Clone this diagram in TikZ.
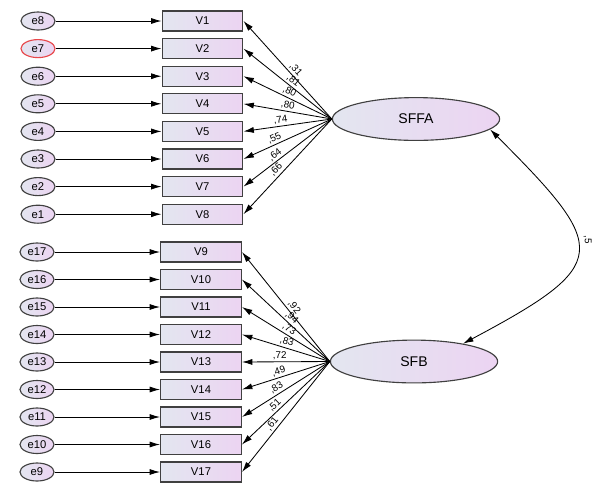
\documentclass[tikz,border=0pt]{standalone}
\usepackage{fontspec}
\setmainfont{Liberation Sans}
\usetikzlibrary{arrows.meta, shapes.geometric, positioning}
\definecolor{leftshade}{HTML}{E3E6F0}
\definecolor{rightshade}{HTML}{ECD4F2}
\definecolor{errred}{HTML}{E8474A}
\definecolor{edgegray}{HTML}{404040}

\begin{document}
\begin{tikzpicture}[x=0.025cm,y=-0.025cm,>={Latex[length=2.6mm,width=1.5mm]},
            line width=0.6pt]
             \useasboundingbox (0,0) rectangle (592,482);

             \tikzstyle{obs} = [draw=edgegray, line width=0.8pt, rectangle, minimum width=2.02cm, minimum height=0.5cm,
                                inner sep=0pt, left color=leftshade, right color=rightshade, font=\footnotesize]
             \tikzstyle{err} = [draw=edgegray, line width=0.8pt, ellipse, minimum width=0.85cm, minimum height=0.45cm,
                                inner sep=0pt, left color=leftshade, right color=rightshade, font=\footnotesize]
             \tikzstyle{lat} = [draw=edgegray, line width=0.8pt, ellipse, minimum width=4.18cm, minimum height=1.07cm,
                                inner sep=0pt, left color=leftshade, right color=rightshade, font=\normalsize]
             \tikzstyle{lod} = [sloped, above, font=\scriptsize, inner sep=1.2pt]

             % errors, upper block
             \node [err] at (38,21) (e8) {e8};
             \node [err, draw=errred] at (38,48.6) (e7) {e7};
             \node [err] at (38,76.2) (e6) {e6};
             \node [err] at (38,103.8) (e5) {e5};
             \node [err] at (38,131.4) (e4) {e4};
             \node [err] at (38,159) (e3) {e3};
             \node [err] at (38,186.6) (e2) {e2};
             \node [err] at (38,214.2) (e1) {e1};

             % errors, lower block
             \node [err] at (37,252) (e17) {e17};
             \node [err] at (37,279.5) (e16) {e16};
             \node [err] at (37,307) (e15) {e15};
             \node [err] at (37,334.5) (e14) {e14};
             \node [err] at (37,362) (e13) {e13};
             \node [err] at (37,389.5) (e12) {e12};
             \node [err] at (37,417) (e11) {e11};
             \node [err] at (37,444.5) (e10) {e10};
             \node [err] at (37,472) (e9) {e9};

             % observed variables
             \node [obs] at (202.5,21) (V1) {V1};
             \node [obs] at (202.5,48.6) (V2) {V2};
             \node [obs] at (202.5,76.2) (V3) {V3};
             \node [obs] at (202.5,103.8) (V4) {V4};
             \node [obs] at (202.5,131.4) (V5) {V5};
             \node [obs] at (202.5,159) (V6) {V6};
             \node [obs] at (202.5,186.6) (V7) {V7};
             \node [obs] at (202.5,214.2) (V8) {V8};

             \node [obs] at (201,252) (V9) {V9};
             \node [obs] at (201,279.5) (V10) {V10};
             \node [obs] at (201,307) (V11) {V11};
             \node [obs] at (201,334.5) (V12) {V12};
             \node [obs] at (201,362) (V13) {V13};
             \node [obs] at (201,389.5) (V14) {V14};
             \node [obs] at (201,417) (V15) {V15};
             \node [obs] at (201,444.5) (V16) {V16};
             \node [obs] at (201,472) (V17) {V17};

             % factors
             \node [lat] at (416,119) (SFFA) {SFFA};
             \node [lat] at (414,361.5) (SFB) {SFB};

             % error arrows
             \draw [->] (e8)--(V1);
             \draw [->] (e7)--(V2);
             \draw [->] (e6)--(V3);
             \draw [->] (e5)--(V4);
             \draw [->] (e4)--(V5);
             \draw [->] (e3)--(V6);
             \draw [->] (e2)--(V7);
             \draw [->] (e1)--(V8);
             \draw [->] (e17)--(V9);
             \draw [->] (e16)--(V10);
             \draw [->] (e15)--(V11);
             \draw [->] (e14)--(V12);
             \draw [->] (e13)--(V13);
             \draw [->] (e12)--(V14);
             \draw [->] (e11)--(V15);
             \draw [->] (e10)--(V16);
             \draw [->] (e9)--(V17);

             % loadings SFFA
             \draw [->] (SFFA.west)--(V1.east) node [lod, pos=.46] {,31};
             \draw [->] (SFFA.west)--(V2.east) node [lod, pos=.48] {,81};
             \draw [->] (SFFA.west)--(V3.east) node [lod, pos=.51] {,80};
             \draw [->] (SFFA.west)--(V4.east) node [lod, pos=.51] {,80};
             \draw [->] (SFFA.west)--(V5.east) node [lod, pos=.57] {,74};
             \draw [->] (SFFA.west)--(V6.east) node [lod, pos=.62] {,55};
             \draw [->] (SFFA.west)--(V7.east) node [lod, pos=.6] {,64};
             \draw [->] (SFFA.west)--(V8.east) node [lod, pos=.58] {,66};

             % loadings SFB
             \draw [->] (SFB.west)--(V9.east) node [lod, pos=.46] {,92};
             \draw [->] (SFB.west)--(V10.east) node [lod, pos=.48] {,94};
             \draw [->] (SFB.west)--(V11.east) node [lod, pos=.5] {,73};
             \draw [->] (SFB.west)--(V12.east) node [lod, pos=.51] {,83};
             \draw [->] (SFB.west)--(V13.east) node [lod, pos=.57] {,72};
             \draw [->] (SFB.west)--(V14.east) node [lod, pos=.56] {,49};
             \draw [->] (SFB.west)--(V15.east) node [lod, pos=.57] {,83};
             \draw [->] (SFB.west)--(V16.east) node [lod, pos=.58] {,51};
             \draw [->] (SFB.west)--(V17.east) node [lod, pos=.6] {,61};

             % covariance
             \draw [<->] (SFB.20) to [out=28, in=-45, looseness=2] (SFFA.-8);
             \node [font=\scriptsize, rotate=-90, inner sep=0pt] at (587.5,240) (cov) {,5};
\end{tikzpicture}
\end{document}
